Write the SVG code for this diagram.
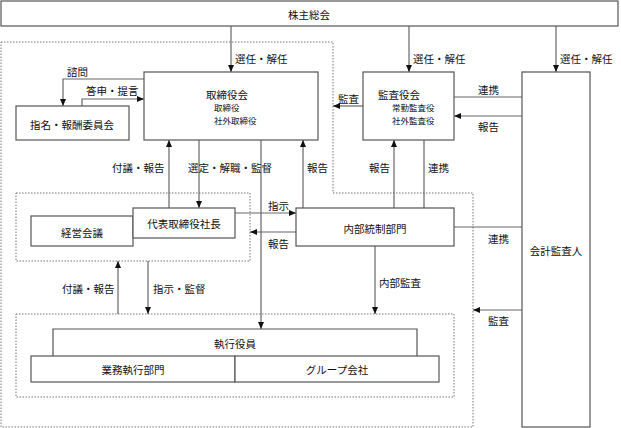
<svg xmlns="http://www.w3.org/2000/svg" width="621" height="428" viewBox="0 0 621 428">
<style>
text{font-family:"Noto Sans CJK JP","Noto Sans",sans-serif;font-size:10.5px;fill:#111;dominant-baseline:central}
.s{font-size:8.5px}
.c{text-anchor:middle}
.box{fill:#fff;stroke:#555;stroke-width:1.2}
.dot{fill:none;stroke:#777;stroke-width:1;stroke-dasharray:1.5 1.5}
.ln{fill:none;stroke:#666;stroke-width:1.2}
.ar{marker-end:url(#a)}
</style>
<defs>
<marker id="a" markerUnits="userSpaceOnUse" markerWidth="8" markerHeight="8" viewBox="0 0 8 8" refX="7" refY="4" orient="auto">
<path d="M0,1 L7,4 L0,7 Z" fill="#111"/>
</marker>
</defs>
<rect width="621" height="428" fill="#fff"/>
<g id="boundaries">
<path class="dot" d="M1,42 H333 V193 H473 V427 H1 Z"/>
<rect class="dot" x="16" y="193" width="234" height="68"/>
<rect class="dot" x="16" y="314" width="438" height="83"/>
</g>
<g id="connectors">
<path class="ln ar" d="M231,26 V72"/>
<path class="ln ar" d="M409,26 V72"/>
<path class="ln ar" d="M556,26 V72"/>
<path class="ln ar" d="M144,79 H63 V106"/>
<path class="ln ar" d="M82,106 V99 H144"/>
<path class="ln ar" d="M169,208 V140"/>
<path class="ln ar" d="M199,140 V208"/>
<path class="ln ar" d="M261,140 V329"/>
<path class="ln ar" d="M303,208 V140"/>
<path class="ln ar" d="M394,208 V140"/>
<path class="ln" d="M424,140 V208"/>
<path class="ln ar" d="M363,106 H333"/>
<path class="ln" d="M454,97 H522"/>
<path class="ln ar" d="M522,116 H454"/>
<path class="ln ar" d="M235,213 H296"/>
<path class="ln ar" d="M296,232 H250"/>
<path class="ln" d="M454,227 H522"/>
<path class="ln ar" d="M522,310 H473"/>
<path class="ln ar" d="M375,246 V314"/>
<path class="ln ar" d="M118,314 V261"/>
<path class="ln ar" d="M148,261 V314"/>
</g>
<g id="labels">
<text x="235" y="58">選任・解任</text>
<text x="413" y="58">選任・解任</text>
<text x="560" y="58">選任・解任</text>
<text x="67" y="71">諮問</text>
<text x="86" y="90">答申・提言</text>
<text x="112" y="167">付議・報告</text>
<text x="188" y="167">選定・解職・監督</text>
<text x="307" y="167">報告</text>
<text x="338" y="98">監査</text>
<text x="478" y="89">連携</text>
<text x="478" y="126">報告</text>
<text x="369" y="167">報告</text>
<text x="428" y="167">連携</text>
<text x="268" y="205">指示</text>
<text x="268" y="243">報告</text>
<text x="488" y="238">連携</text>
<text x="488" y="320">監査</text>
<text x="379" y="282">内部監査</text>
<text x="62" y="288">付議・報告</text>
<text x="153" y="288">指示・監督</text>
</g>
<g id="shareholders">
<rect class="box" x="1" y="1" width="617" height="25"/>
<text class="c" x="309" y="14">株主総会</text>
</g>
<g id="board">
<rect class="box" x="144" y="72" width="174" height="68"/>
<text class="c" x="227" y="94">取締役会</text>
<text class="s" x="214" y="107">取締役</text>
<text class="s" x="214" y="120">社外取締役</text>
</g>
<g id="nomination">
<rect class="box" x="16" y="106" width="113" height="34"/>
<text class="c" x="72" y="124">指名・報酬委員会</text>
</g>
<g id="auditboard">
<rect class="box" x="363" y="72" width="91" height="68"/>
<text class="c" x="399" y="94">監査役会</text>
<text class="s" x="392" y="107">常勤監査役</text>
<text class="s" x="392" y="120">社外監査役</text>
</g>
<g id="accountant">
<rect class="box" x="522" y="72" width="68" height="355"/>
<text class="c" x="556" y="250">会計監査人</text>
</g>
<g id="mgmtmeeting">
<rect class="box" x="31" y="216" width="102" height="30"/>
<text class="c" x="82" y="232">経営会議</text>
</g>
<g id="president">
<rect class="box" x="133" y="208" width="102" height="30"/>
<text class="c" x="184" y="223">代表取締役社長</text>
</g>
<g id="internalcontrol">
<rect class="box" x="296" y="208" width="158" height="38"/>
<text class="c" x="375" y="228">内部統制部門</text>
</g>
<g id="officers">
<path class="box" d="M53,356 V329 H417 V356"/>
<text class="c" x="235" y="343">執行役員</text>
</g>
<g id="business">
<rect class="box" x="31" y="356" width="204" height="26"/>
<text class="c" x="133" y="369">業務執行部門</text>
</g>
<g id="group">
<rect class="box" x="235" y="356" width="204" height="26"/>
<text class="c" x="337" y="369">グループ会社</text>
</g>
</svg>
